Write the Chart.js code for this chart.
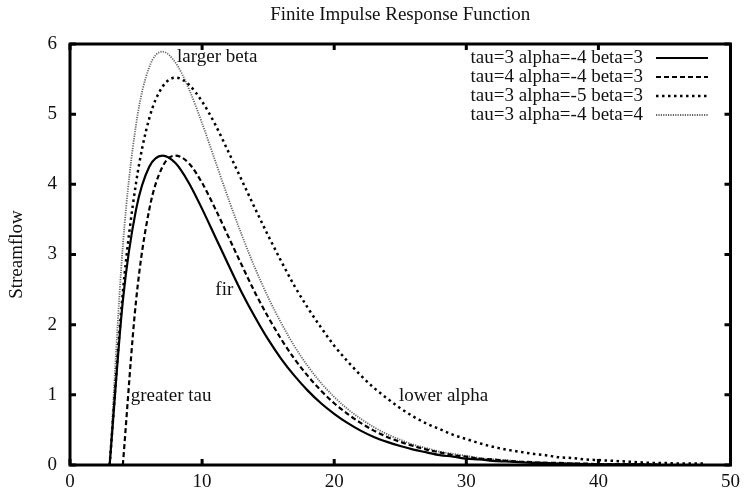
<!DOCTYPE html>
<html lang="en">
<head>
    <meta charset="UTF-8">
    <title>Finite Impulse Response Function</title>
    <style>
        html, body {
            margin: 0;
            padding: 0;
            background-color: #fff;
        }
        .chart-container {
            width: 746px;
            height: 493px;
        }
    </style>
</head>
<body>
    <div class="chart-container">
        <canvas id="firChart" width="746" height="493"></canvas>
    </div>

    <script src="https://cdn.jsdelivr.net/npm/chart.js"></script>
    <script>
        // time steps (x axis)
        const timeTau3 = [3, 4, 5, 6, 7, 8, 9, 10, 11, 12, 13, 14, 15, 16, 17, 18, 19, 20, 21, 22, 23, 24, 25,
            26, 27, 28, 29, 30, 31, 32, 33, 34, 35, 36, 37, 38, 39, 40, 41, 42, 43, 44, 45, 46, 47, 48];
        const timeTau4 = [4, 5, 6, 7, 8, 9, 10, 11, 12, 13, 14, 15, 16, 17, 18, 19, 20, 21, 22, 23, 24, 25,
            26, 27, 28, 29, 30, 31, 32, 33, 34, 35, 36, 37, 38, 39, 40, 41, 42, 43, 44, 45, 46, 47, 48];

        // streamflow
        const flowTau3A4B3 = [0, 2.34, 3.64, 4.25, 4.41, 4.30, 4.02, 3.65, 3.25, 2.85, 2.46, 2.11, 1.79, 1.51,
            1.27, 1.06, 0.88, 0.73, 0.60, 0.49, 0.40, 0.33, 0.27, 0.22, 0.18, 0.14, 0.12, 0.09, 0.08, 0.06, 0.05,
            0.04, 0.03, 0.03, 0.02, 0.02, 0.01, 0.01, 0.01, 0.01, 0.01, 0, 0, 0, 0, 0];
        const flowTau4A4B3 = [0, 2.34, 3.64, 4.25, 4.41, 4.30, 4.02, 3.65, 3.25, 2.85, 2.46, 2.11, 1.79, 1.51,
            1.27, 1.06, 0.88, 0.73, 0.60, 0.49, 0.40, 0.33, 0.27, 0.22, 0.18, 0.14, 0.12, 0.09, 0.08, 0.06, 0.05,
            0.04, 0.03, 0.03, 0.02, 0.02, 0.01, 0.01, 0.01, 0.01, 0.01, 0, 0, 0, 0];
        const flowTau3A5B3 = [0, 2.46, 4.02, 4.94, 5.39, 5.52, 5.42, 5.18, 4.85, 4.46, 4.06, 3.66, 3.27, 2.90,
            2.55, 2.24, 1.96, 1.70, 1.48, 1.28, 1.10, 0.95, 0.81, 0.69, 0.59, 0.51, 0.43, 0.37, 0.31, 0.26, 0.22,
            0.19, 0.16, 0.14, 0.11, 0.10, 0.08, 0.07, 0.06, 0.05, 0.04, 0.03, 0.03, 0.02, 0.02, 0.02];
        const flowTau3A4B4 = [0, 3.12, 4.85, 5.67, 5.89, 5.73, 5.36, 4.87, 4.33, 3.79, 3.28, 2.81, 2.39, 2.02,
            1.69, 1.41, 1.17, 0.97, 0.80, 0.66, 0.54, 0.44, 0.36, 0.29, 0.24, 0.19, 0.16, 0.13, 0.10, 0.08, 0.07,
            0.05, 0.04, 0.03, 0.03, 0.02, 0.02, 0.01, 0.01, 0.01, 0.01, 0.01, 0, 0, 0, 0];

        const seriesLabels = ['tau=3 alpha=-4 beta=3', 'tau=4 alpha=-4 beta=3', 'tau=3 alpha=-5 beta=3', 'tau=3 alpha=-4 beta=4'];
        const chartTitle = 'Finite Impulse Response Function';

        // tick values
        const xTicks = [0, 10, 20, 30, 40, 50];
        const yTicks = [0, 1, 2, 3, 4, 5, 6];

        // text labels inside the plot
        const noteText = ['larger beta', 'fir', 'greater tau', 'lower alpha'];
        const noteX = [8.1, 11.0, 4.6, 24.9];
        const noteY = [5.82, 2.5, 0.98, 0.98];

        const serif = "'Liberation Serif', 'DejaVu Serif', serif";

        function toPoints(xs, ys) {
            return xs.map((x, i) => ({ x: x, y: ys[i] }));
        }

        // frame with inward ticks, title, legend and notes (gnuplot look)
        const gnuplotDecor = {
            id: 'gnuplotDecor',
            afterDatasetsDraw(chart) {
                const c = chart.ctx;
                const a = chart.chartArea;
                const xs = chart.scales.x;
                const ys = chart.scales.y;
                c.save();

                // frame
                c.strokeStyle = '#000';
                c.lineWidth = 3;
                c.strokeRect(a.left, a.top, a.right - a.left, a.bottom - a.top);

                // inward ticks
                c.beginPath();
                xTicks.forEach(v => {
                    const px = xs.getPixelForValue(v);
                    c.moveTo(px, a.bottom); c.lineTo(px, a.bottom - 6);
                    c.moveTo(px, a.top); c.lineTo(px, a.top + 6);
                });
                yTicks.forEach(v => {
                    const py = ys.getPixelForValue(v);
                    c.moveTo(a.left, py); c.lineTo(a.left + 6, py);
                    c.moveTo(a.right, py); c.lineTo(a.right - 6, py);
                });
                c.stroke();

                c.font = '19px ' + serif;
                c.fillStyle = '#111';
                c.textBaseline = 'middle';

                // title centred over the plot area
                c.textAlign = 'center';
                c.fillText(chartTitle, (a.left + a.right) / 2, 15);

                // legend: text right aligned, sample line on the right
                chart.data.datasets.forEach((ds, i) => {
                    const y = 58 + i * 19;
                    c.textAlign = 'right';
                    c.fillText(ds.label, 643, y);
                    c.strokeStyle = ds.borderColor;
                    c.lineWidth = ds.borderWidth;
                    c.setLineDash(ds.borderDash || []);
                    c.beginPath();
                    c.moveTo(656, y);
                    c.lineTo(708, y);
                    c.stroke();
                });
                c.setLineDash([]);

                // notes
                c.textAlign = 'left';
                noteText.forEach((t, i) => {
                    c.fillText(t, xs.getPixelForValue(noteX[i]), ys.getPixelForValue(noteY[i]));
                });
                c.restore();
            }
        };

        const ctx = document.getElementById('firChart').getContext('2d');

        new Chart(ctx, {
            type: 'line',
            data: {
                datasets: [{
                    label: seriesLabels[0],
                    data: toPoints(timeTau3, flowTau3A4B3),
                    borderColor: '#000',
                    borderWidth: 2.2
                }, {
                    label: seriesLabels[1],
                    data: toPoints(timeTau4, flowTau4A4B3),
                    borderColor: '#000',
                    borderWidth: 2.2,
                    borderDash: [5, 3]
                }, {
                    label: seriesLabels[2],
                    data: toPoints(timeTau3, flowTau3A5B3),
                    borderColor: '#000',
                    borderWidth: 2.5,
                    borderDash: [2.5, 3.5]
                }, {
                    label: seriesLabels[3],
                    data: toPoints(timeTau3, flowTau3A4B4),
                    borderColor: '#666',
                    borderWidth: 1.8,
                    borderDash: [1.2, 1.2]
                }]
            },
            options: {
                responsive: false,
                animation: false,
                events: [],
                layout: { padding: { left: 0, right: 6, top: 44, bottom: 0 } },
                elements: {
                    point: { radius: 0 },
                    line: { cubicInterpolationMode: 'monotone', fill: false }
                },
                plugins: {
                    legend: { display: false },
                    tooltip: { enabled: false },
                    title: { display: false }
                },
                scales: {
                    x: {
                        type: 'linear',
                        min: 0,
                        max: 50,
                        afterFit(scale) { scale.height = 28; },
                        afterBuildTicks(scale) { scale.ticks = xTicks.map(v => ({ value: v })); },
                        grid: { display: false, drawTicks: false },
                        border: { display: false },
                        ticks: {
                            color: '#111',
                            padding: 6,
                            maxRotation: 0,
                            font: { family: serif, size: 19 }
                        }
                    },
                    y: {
                        min: 0,
                        max: 6,
                        afterFit(scale) { scale.width = 70; },
                        afterBuildTicks(scale) { scale.ticks = yTicks.map(v => ({ value: v })); },
                        grid: { display: false, drawTicks: false },
                        border: { display: false },
                        ticks: {
                            color: '#111',
                            padding: 13,
                            font: { family: serif, size: 19 }
                        },
                        title: {
                            display: true,
                            text: 'Streamflow',
                            color: '#111',
                            font: { family: serif, size: 19 },
                            padding: { top: 6, bottom: 0 }
                        }
                    }
                }
            },
            plugins: [gnuplotDecor]
        });
    </script>
</body>
</html>
